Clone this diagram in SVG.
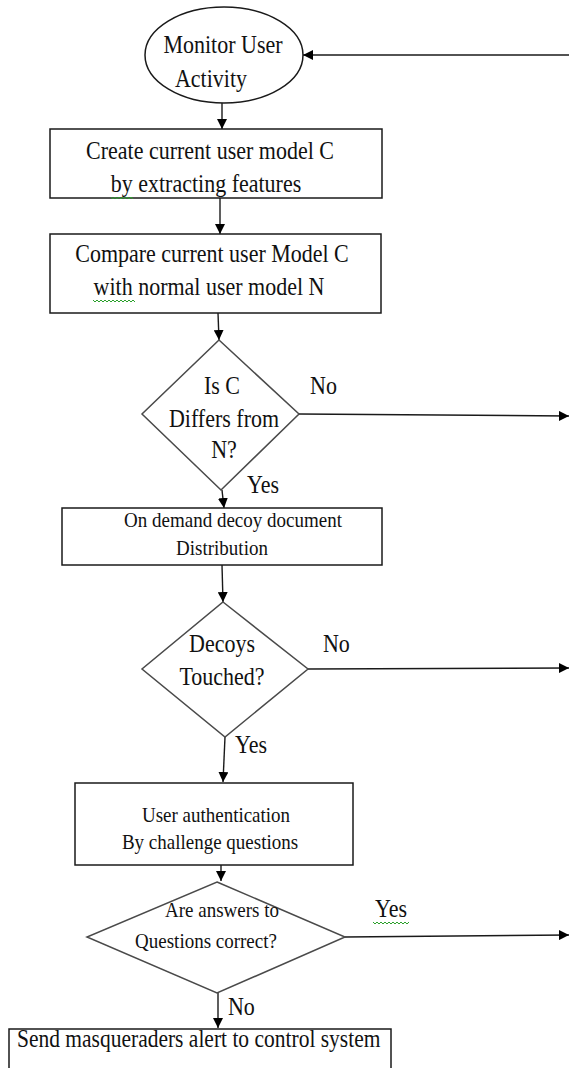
<svg xmlns="http://www.w3.org/2000/svg" width="569" height="1068" viewBox="0 0 569 1068">
  <style>
    .shape { fill: #ffffff; stroke: #1a1a1a; stroke-width: 1.5; }
    .dia { fill: #ffffff; stroke: #4a4a4a; stroke-width: 1.5; }
    .conn { fill: none; stroke: #1a1a1a; stroke-width: 1.4; }
    .t { font-family: "Liberation Serif", "Times New Roman", serif; fill: #111111; }
    .big { font-size: 22px; }
    .small { font-size: 19px; }
    .c { text-anchor: middle; }
    .sq { fill: none; stroke: #2aa02a; stroke-width: 1; }
  </style>
  <defs>
    <marker id="ah" viewBox="0 0 10 10" refX="10" refY="5" markerWidth="10" markerHeight="10" markerUnits="userSpaceOnUse" orient="auto">
      <path d="M0,0 L10,5 L0,10 z" fill="#000000"/>
    </marker>
  </defs>
  <rect width="569" height="1068" fill="#ffffff"/>

  <g id="connectors">
    <line class="conn" x1="569" y1="55" x2="303" y2="55" marker-end="url(#ah)"/>
    <line class="conn" x1="222" y1="103" x2="222" y2="129" marker-end="url(#ah)"/>
    <line class="conn" x1="220" y1="198" x2="220" y2="234" marker-end="url(#ah)"/>
    <line class="conn" x1="218" y1="313" x2="219" y2="340" marker-end="url(#ah)"/>
    <line class="conn" x1="299" y1="414" x2="569" y2="416" marker-end="url(#ah)"/>
    <line class="conn" x1="222" y1="490" x2="224" y2="508" marker-end="url(#ah)"/>
    <line class="conn" x1="222" y1="565" x2="223" y2="602" marker-end="url(#ah)"/>
    <line class="conn" x1="308" y1="669" x2="569" y2="668" marker-end="url(#ah)"/>
    <line class="conn" x1="225" y1="737" x2="223" y2="782" marker-end="url(#ah)"/>
    <line class="conn" x1="221" y1="858" x2="221" y2="881" marker-end="url(#ah)"/>
    <line class="conn" x1="345" y1="937" x2="569" y2="935" marker-end="url(#ah)"/>
    <line class="conn" x1="218" y1="993" x2="218" y2="1028" marker-end="url(#ah)"/>
  </g>

  <g id="monitor">
    <ellipse class="shape" cx="224" cy="55" rx="79" ry="48" stroke-width="1.2"/>
    <text class="t big c" transform="translate(223,53) scale(1,1.18)">Monitor User</text>
    <text class="t big c" transform="translate(211,87) scale(1,1.18)">Activity</text>
  </g>

  <g id="create-model">
    <rect class="shape" x="50" y="129" width="332" height="69"/>
    <text class="t big c" transform="translate(210,159) scale(1,1.18)">Create current user model C</text>
    <text class="t big c" transform="translate(206,192) scale(1,1.18)">by extracting features</text>
    <polyline class="sq" points="111,197 113,199 115,197 117,199 119,197 121,199 123,197 125,199 127,197 129,199 131,197 133,199"/>
  </g>

  <g id="compare-model">
    <rect class="shape" x="50" y="234" width="331" height="79"/>
    <text class="t big c" transform="translate(212,262) scale(1,1.18)">Compare current user Model C</text>
    <text class="t big c" transform="translate(209,295) scale(1,1.18)">with normal user model N</text>
    <polyline class="sq" points="93,300 95,302 97,300 99,302 101,300 103,302 105,300 107,302 109,300 111,302 113,300 115,302 117,300 119,302 121,300 123,302 125,300 127,302 129,300 131,302 133,300 135,302"/>
  </g>

  <g id="differs-decision">
    <polygon class="dia" points="219,340 299,414 221,490 142,414"/>
    <text class="t big c" transform="translate(222,394) scale(1,1.12)">Is C</text>
    <text class="t big c" transform="translate(224,427) scale(1,1.12)">Differs from</text>
    <text class="t big c" transform="translate(224,458) scale(1,1.12)">N?</text>
    <text class="t big" transform="translate(310,394) scale(1,1.12)">No</text>
    <text class="t big" transform="translate(247,493) scale(1,1.12)">Yes</text>
  </g>

  <g id="decoy-distribution">
    <rect class="shape" x="62" y="508" width="320" height="57"/>
    <text class="t small c" transform="translate(233,527) scale(1,1.1)">On demand decoy document</text>
    <text class="t small c" transform="translate(222,555) scale(1,1.1)">Distribution</text>
  </g>

  <g id="decoys-decision">
    <polygon class="dia" points="223,602 308,669 225,737 142,669"/>
    <text class="t big c" transform="translate(222,652) scale(1,1.15)">Decoys</text>
    <text class="t big c" transform="translate(222,685) scale(1,1.15)">Touched?</text>
    <text class="t big" transform="translate(323,652) scale(1,1.15)">No</text>
    <text class="t big" transform="translate(235,753) scale(1,1.15)">Yes</text>
  </g>

  <g id="authentication">
    <rect class="shape" x="75" y="783" width="278" height="82"/>
    <text class="t small c" transform="translate(216,822) scale(1,1.08)">User authentication</text>
    <text class="t small c" transform="translate(210,849) scale(1,1.08)">By challenge questions</text>
  </g>

  <g id="answers-decision">
    <polygon class="dia" points="217,882 345,937 217,993 87,937"/>
    <text class="t small c" transform="translate(222,917) scale(1,1.08)">Are answers to</text>
    <text class="t small c" transform="translate(206,948) scale(1,1.08)">Questions correct?</text>
    <text class="t big" transform="translate(375,917) scale(1,1.15)">Yes</text>
    <polyline class="sq" points="373,922 375,924 377,922 379,924 381,922 383,924 385,922 387,924 389,922 391,924 393,922 395,924 397,922 399,924 401,922 403,924 405,922 407,924 409,922"/>
    <text class="t big" transform="translate(228,1015) scale(1,1.15)">No</text>
  </g>

  <g id="send-alert">
    <rect class="shape" x="9" y="1029" width="382" height="60"/>
    <text class="t" font-size="21.5" transform="translate(17,1047) scale(1,1.15)">Send masqueraders alert to control system</text>
  </g>
</svg>
